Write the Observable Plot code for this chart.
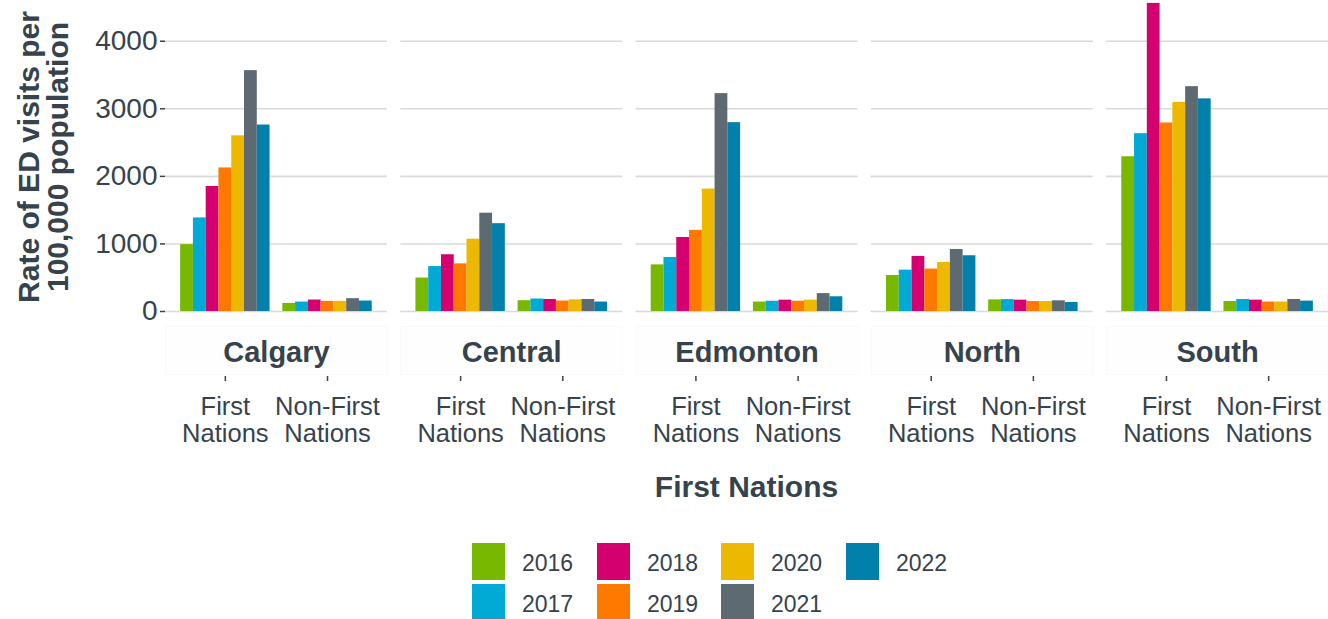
<!DOCTYPE html>
<html><head><meta charset="utf-8">
<script src="https://cdn.jsdelivr.net/npm/d3@7"></script>
<script src="https://cdn.jsdelivr.net/npm/@observablehq/plot@0.6"></script>
<style>
body{margin:0;background:#fff;width:1328px;height:619px;overflow:hidden;position:relative;font-family:"Liberation Sans",Arial,sans-serif;color:#36434c}
#chart{position:absolute;left:0;top:0}
#ytitle{position:absolute;left:-116px;top:127px;width:320px;height:60px;transform:rotate(-90deg);text-align:center;font-weight:bold;font-size:30px;line-height:29px;white-space:nowrap}
#xtitle{position:absolute;left:0;width:1328px;padding-left:165px;box-sizing:border-box;top:471px;text-align:center;font-weight:bold;font-size:30px;line-height:32px}
.sw{position:absolute;width:33px;height:37px}
.lb{position:absolute;font-size:23px;line-height:37px}
</style></head><body>
<div id="chart"></div>
<div id="ytitle">Rate of ED visits per<br>100,000 population</div>
<div id="xtitle">First Nations</div>
<div id="legend"></div>
<script>
const regions = ["Calgary", "Central", "Edmonton", "North", "South"];
const groups = ["First Nations", "Non-First Nations"];
const groupLabels = ["First\nNations", "Non-First\nNations"];
const years = ["2016", "2017", "2018", "2019", "2020", "2021", "2022"];
const colors = ["#78b800", "#00aad4", "#d4006f", "#ff7800", "#ecb800", "#5e6a72", "#0080aa"];
const yTicks = [0, 1000, 2000, 3000, 4000];

// values by year 2016..2022
const calgaryFN   = [990, 1385, 1850, 2125, 2600, 3565, 2760];
const calgaryNFN  = [120, 140, 170, 150, 150, 190, 155];
const centralFN   = [495, 665, 840, 705, 1070, 1455, 1300];
const centralNFN  = [160, 185, 178, 155, 172, 178, 140];
const edmontonFN  = [690, 800, 1095, 1200, 1812, 3225, 2795];
const edmontonNFN = [140, 152, 168, 152, 168, 265, 218];
const northFN     = [533, 612, 815, 628, 725, 918, 825];
const northNFN    = [172, 176, 168, 148, 148, 158, 133];
const southFN     = [2290, 2632, 4560, 2790, 3095, 3328, 3147];
const southNFN    = [148, 178, 168, 140, 140, 178, 154];

const seriesTable = {
  Calgary: [calgaryFN, calgaryNFN],
  Central: [centralFN, centralNFN],
  Edmonton: [edmontonFN, edmontonNFN],
  North: [northFN, northNFN],
  South: [southFN, southNFN]
};

const data = [];
for (const r of regions) {
  groups.forEach((g, gi) => {
    years.forEach((y, yi) => {
      data.push({region: r, group: g, year: y, key: g + "|" + y, value: seriesTable[r][gi][yi]});
    });
  });
}
const xDomain = [...years.map(y => groups[0] + "|" + y), "gap", ...years.map(y => groups[1] + "|" + y)];
const midKeys = groups.map(g => g + "|" + years[3]);
const tickLabel = k => groupLabels[groups.indexOf(k.split("|")[0])];

const ink = "#36434c";
const chart = Plot.plot({
  width: 1328,
  height: 460,
  marginLeft: 165,
  marginRight: 0,
  marginTop: 0,
  marginBottom: 149,
  style: {fontFamily: '"Liberation Sans", Arial, sans-serif', color: ink, background: "#fff"},
  fx: {domain: regions, paddingInner: 0.057, paddingOuter: 0, round: false, axis: null, label: null},
  x: {type: "band", domain: xDomain, paddingInner: 0, paddingOuter: 1.185, round: false, axis: null, label: null},
  y: {domain: [0, 4603], axis: null, label: null},
  color: {domain: years, range: colors},
  marks: [
    Plot.frame({fill: "#fefefe", stroke: "#f9f9f9", insetTop: 326, insetBottom: -63}),
    Plot.gridY(yTicks, {stroke: "#d9d9d9", strokeOpacity: 1, strokeWidth: 1.6}),
    Plot.barY(data, {fx: "region", x: "key", y: "value", fill: "year", clip: true}),
    Plot.axisY({ticks: yTicks, tickFormat: d => String(d), tickSize: 5, tickPadding: 3, fontSize: 28, stroke: ink, strokeWidth: 1.5, fill: ink, label: null}),
    Plot.axisFx({anchor: "bottom", tickSize: 0, tickPadding: 30, fontSize: 29, fontWeight: "bold", fill: ink, label: null}),
    Plot.axisX({ticks: midKeys, tickFormat: tickLabel, tickSize: 5, tickPadding: 14, dy: 65, fontSize: 25.5, lineHeight: 1.07, stroke: ink, strokeWidth: 1.5, fill: ink, label: null})
  ]
});
document.getElementById("chart").appendChild(chart);

// legend (column-wise, 2 rows)
const leg = document.getElementById("legend");
const colX = [472, 597, 721, 846];
const rowY = [543, 584];
years.forEach((y, i) => {
  const c = Math.floor(i / 2), r = i % 2;
  const sw = document.createElement("div");
  sw.className = "sw";
  sw.style.left = colX[c] + "px";
  sw.style.top = rowY[r] + "px";
  sw.style.background = colors[i];
  leg.appendChild(sw);
  const lb = document.createElement("div");
  lb.className = "lb";
  lb.style.left = (colX[c] + 50) + "px";
  lb.style.top = (rowY[r] + 2) + "px";
  lb.textContent = y;
  leg.appendChild(lb);
});
</script>
</body></html>
